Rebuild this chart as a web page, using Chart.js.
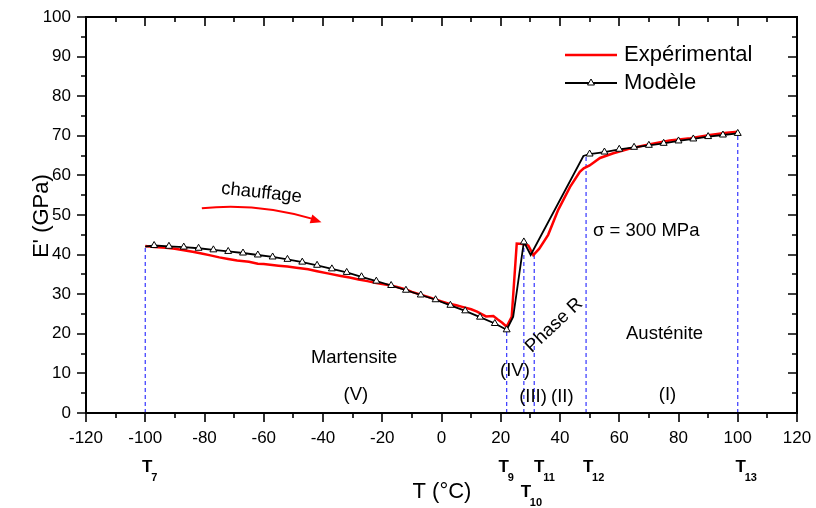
<!DOCTYPE html>
<html>
<head>
<meta charset="utf-8">
<script src="https://cdn.jsdelivr.net/npm/chart.js@4.4.0/dist/chart.umd.min.js"></script>
<style>
  html, body { margin: 0; padding: 0; background: #fff; }
  canvas { display: block; }
</style>
</head>
<body>
<canvas id="chart" width="816" height="508"></canvas>
<script>
// axis ticks
const xTicks = [-120, -100, -80, -60, -40, -20, 0, 20, 40, 60, 80, 100, 120];
const yTicks = [0, 10, 20, 30, 40, 50, 60, 70, 80, 90, 100];

// experimental curve (red)
const expTemps = [-100, -97, -93, -90, -87, -84, -81, -78, -75, -72, -69, -65, -62, -60, -55, -52, -49, -45, -42, -38,
    -34, -31, -28, -25, -22, -18, -15, -12, -10, -7, -4, 0, 3, 5, 7, 10, 12, 15, 17.5, 19, 20.5, 22, 23.7,
    25.4, 27.5, 29.3, 31, 33, 36, 39.4, 43.4, 46.7, 48, 50, 53.5, 58, 63.6, 70.4, 77, 84, 90.6, 96.3, 100];
const expValues = [42.2, 41.9, 41.7, 41.5, 41.1, 40.7, 40.3, 39.8, 39.3, 38.9, 38.5, 38.2, 37.7, 37.6, 37.2, 37.0, 36.7, 36.3, 35.8, 35.2,
    34.6, 34.2, 33.7, 33.3, 32.8, 32.3, 31.8, 31.2, 30.6, 29.9, 29.2, 28.2, 27.5, 27.2, 26.8, 26.2, 25.6, 24.4, 24.5, 23.6, 22.8, 21.8, 24.3,
    42.8, 42.7, 42.3, 39.9, 41.5, 45, 51.3, 57.1, 60.9, 61.8, 62.5, 64.4, 65.6, 66.8, 67.9, 68.8, 69.4, 70.2, 70.8, 71];

// model curve (black, triangles)
const modelTemps = [-100, -97, -92, -87, -82, -77, -72, -67, -62, -57, -52, -47, -42, -37, -32, -27, -22, -17, -12, -7, -2,
    3, 8, 13, 18, 22, 24.2, 27.8, 30.1, 47.9, 50, 55, 60, 65, 70, 75, 80, 85, 90, 95, 100];
const modelValues = [42.0, 42.3, 42.1, 41.9, 41.6, 41.2, 40.8, 40.4, 39.9, 39.4, 38.8, 38.1, 37.3, 36.4, 35.5, 34.4, 33.3, 32.2, 31.0, 29.8, 28.6,
    27.2, 25.8, 24.2, 22.6, 21.0, 24.3, 43.2, 39.9, 64.9, 65.4, 65.9, 66.6, 67.1, 67.6, 68.1, 68.7, 69.2, 69.8, 70.2, 70.6];
const modelNoMarker = [-100, 24.2, 30.1, 47.9];

// transition temperatures
const transTemps = [-100, 22, 27.8, 31.3, 48.8, 100];
const transTops = [42.2, 21.0, 43.2, 40.0, 65.0, 70.6];
const transNames = ["7", "9", "10", "11", "12", "13"];

const FONT = "'Liberation Sans', Arial, sans-serif";
Chart.defaults.font.family = FONT;
Chart.defaults.color = "#000";

// text placed in data coordinates
const notes = [
    { text: "chauffage", x: -60.9, y: 54.3, rot: 6 },
    { text: "Martensite", x: -29.5, y: 12.6 },
    { text: "(V)", x: -28.9, y: 3.3 },
    { text: "(IV)", x: 24.8, y: 9.3 },
    { text: "(III)", x: 30.9, y: 2.9 },
    { text: "(II)", x: 40.8, y: 2.9 },
    { text: "Phase R", x: 39.2, y: 21.2, rot: -43 },
    { text: "Austénite", x: 75.3, y: 18.6 },
    { text: "(I)", x: 76.3, y: 3.3 },
    { text: "σ = 300 MPa", x: 51.1, y: 44.6, align: "left" }
];
// small horizontal shifts for the T labels so they don't collide
const tShift = [2, -3, 2, 5, 2, 3];
const tLow = [false, false, true, false, false, false];

function drawTriangle(ctx, x, y, r) {
    ctx.beginPath();
    let rad = 0;
    for (let i = 0; i < 3; i++) {
        const px = x + Math.sin(rad) * r, py = y - Math.cos(rad) * r;
        if (i === 0) ctx.moveTo(px, py); else ctx.lineTo(px, py);
        rad += Math.PI * 2 / 3;
    }
    ctx.closePath();
    ctx.fillStyle = "#fff";
    ctx.fill();
    ctx.lineWidth = 1;
    ctx.strokeStyle = "#000";
    ctx.stroke();
}

const decorPlugin = {
    id: "decor",
    afterDraw(chart) {
        const { ctx, chartArea: a, scales: { x, y } } = chart;
        ctx.save();

        // frame
        ctx.strokeStyle = "#000";
        ctx.lineWidth = 2;
        ctx.strokeRect(a.left, a.top, a.right - a.left, a.bottom - a.top);

        // ticks (major at labels, minor halfway)
        ctx.lineWidth = 1.6;
        ctx.beginPath();
        xTicks.forEach((t, i) => {
            const px = Math.round(x.getPixelForValue(t));
            ctx.moveTo(px, a.bottom); ctx.lineTo(px, a.bottom + 9);
            ctx.moveTo(px, a.top); ctx.lineTo(px, a.top + 9);
            if (i < xTicks.length - 1) {
                const mx = Math.round(x.getPixelForValue((t + xTicks[i + 1]) / 2));
                ctx.moveTo(mx, a.bottom); ctx.lineTo(mx, a.bottom + 5);
                ctx.moveTo(mx, a.top); ctx.lineTo(mx, a.top + 5);
            }
        });
        yTicks.forEach((t, i) => {
            const py = Math.round(y.getPixelForValue(t));
            ctx.moveTo(a.left, py); ctx.lineTo(a.left - 9, py);
            ctx.moveTo(a.right, py); ctx.lineTo(a.right - 9, py);
            if (i < yTicks.length - 1) {
                const my = Math.round(y.getPixelForValue((t + yTicks[i + 1]) / 2));
                ctx.moveTo(a.left, my); ctx.lineTo(a.left - 5, my);
                ctx.moveTo(a.right, my); ctx.lineTo(a.right - 5, my);
            }
        });
        ctx.stroke();

        // notes
        ctx.fillStyle = "#000";
        ctx.font = "18.5px " + FONT;
        ctx.textBaseline = "alphabetic";
        notes.forEach(n => {
            ctx.save();
            ctx.translate(x.getPixelForValue(n.x), y.getPixelForValue(n.y));
            if (n.rot) ctx.rotate(n.rot * Math.PI / 180);
            ctx.textAlign = n.align || "center";
            ctx.fillText(n.text, 0, 0);
            ctx.restore();
        });

        // heating arrow
        const sx = x.getPixelForValue(-80.9), sy = y.getPixelForValue(51.7);
        const cx = x.getPixelForValue(-62), cy = y.getPixelForValue(53.2);
        const ex = x.getPixelForValue(-40.5), ey = y.getPixelForValue(48.2);
        ctx.strokeStyle = "#ff0000";
        ctx.lineWidth = 2;
        ctx.beginPath();
        ctx.moveTo(sx, sy);
        ctx.quadraticCurveTo(cx, cy, ex - 6, ey - 2.5);
        ctx.stroke();
        const ang = Math.atan2(ey - cy, ex - cx);
        ctx.fillStyle = "#ff0000";
        ctx.beginPath();
        ctx.moveTo(ex, ey);
        ctx.lineTo(ex - 11 * Math.cos(ang) + 4.5 * Math.sin(ang), ey - 11 * Math.sin(ang) - 4.5 * Math.cos(ang));
        ctx.lineTo(ex - 11 * Math.cos(ang) - 4.5 * Math.sin(ang), ey - 11 * Math.sin(ang) + 4.5 * Math.cos(ang));
        ctx.closePath();
        ctx.fill();

        // legend
        ctx.lineWidth = 2.5;
        ctx.strokeStyle = "#ff0000";
        ctx.beginPath(); ctx.moveTo(565, 55); ctx.lineTo(617, 55); ctx.stroke();
        ctx.lineWidth = 1.8;
        ctx.strokeStyle = "#000";
        ctx.beginPath(); ctx.moveTo(565, 83); ctx.lineTo(617, 83); ctx.stroke();
        drawTriangle(ctx, 591, 83, 4);
        ctx.fillStyle = "#000";
        ctx.font = "22px " + FONT;
        ctx.textAlign = "left";
        ctx.textBaseline = "middle";
        ctx.fillText("Expérimental", 624, 55);
        ctx.fillText("Modèle", 624, 83);

        // axis titles
        ctx.textBaseline = "alphabetic";
        ctx.textAlign = "center";
        ctx.fillText("T (°C)", 442, 498);
        ctx.save();
        ctx.translate(48, 216);
        ctx.rotate(-Math.PI / 2);
        ctx.fillText("E' (GPa)", 0, 0);
        ctx.restore();

        // transition labels under the axis
        transTemps.forEach((t, i) => {
            const px = x.getPixelForValue(t) + tShift[i];
            const base = tLow[i] ? 497 : 472;
            ctx.font = "bold 17px " + FONT;
            ctx.textAlign = "center";
            ctx.fillText("T", px, base);
            ctx.font = "bold 11px " + FONT;
            ctx.textAlign = "left";
            ctx.fillText(transNames[i], px + 4, base + 9);
        });

        ctx.restore();
    }
};

const transSets = transTemps.map((t, i) => ({
    data: [{ x: t, y: 0 }, { x: t, y: transTops[i] }],
    borderColor: "#3535ff",
    borderWidth: 1.2,
    borderDash: [4, 3],
    pointRadius: 0,
    fill: false
}));

new Chart(document.getElementById("chart"), {
    type: "line",
    data: {
        datasets: [
            {
                label: "Modèle",
                data: modelTemps.map((t, i) => ({ x: t, y: modelValues[i] })),
                borderColor: "#000",
                borderWidth: 1.8,
                pointStyle: "triangle",
                pointRadius: c => modelNoMarker.includes(modelTemps[c.dataIndex]) ? 0 : 4,
                pointBackgroundColor: "#fff",
                pointBorderColor: "#000",
                pointBorderWidth: 1,
                tension: 0,
                fill: false
            },
            {
                label: "Expérimental",
                data: expTemps.map((t, i) => ({ x: t, y: expValues[i] })),
                borderColor: "#ff0000",
                borderWidth: 2.5,
                pointRadius: 0,
                tension: 0,
                fill: false
            },
            ...transSets
        ]
    },
    options: {
        responsive: false,
        animation: false,
        devicePixelRatio: 1,
        layout: { padding: { top: 17, right: 19, left: 0, bottom: 0 } },
        plugins: { legend: { display: false }, tooltip: { enabled: false } },
        scales: {
            x: {
                type: "linear",
                min: -120,
                max: 120,
                afterBuildTicks: s => { s.ticks = xTicks.map(v => ({ value: v })); },
                afterFit: s => { s.height = 95; s.paddingLeft = 0; s.paddingRight = 0; },
                grid: { display: false, drawTicks: false },
                border: { display: false },
                ticks: { font: { size: 17 }, padding: 15, maxRotation: 0, autoSkip: false }
            },
            y: {
                type: "linear",
                min: 0,
                max: 100,
                afterBuildTicks: s => { s.ticks = yTicks.map(v => ({ value: v })); },
                afterFit: s => { s.width = 86; s.paddingTop = 0; s.paddingBottom = 0; },
                grid: { display: false, drawTicks: false },
                border: { display: false },
                ticks: { font: { size: 17 }, padding: 15, autoSkip: false }
            }
        }
    },
    plugins: [decorPlugin]
});
</script>
</body>
</html>
